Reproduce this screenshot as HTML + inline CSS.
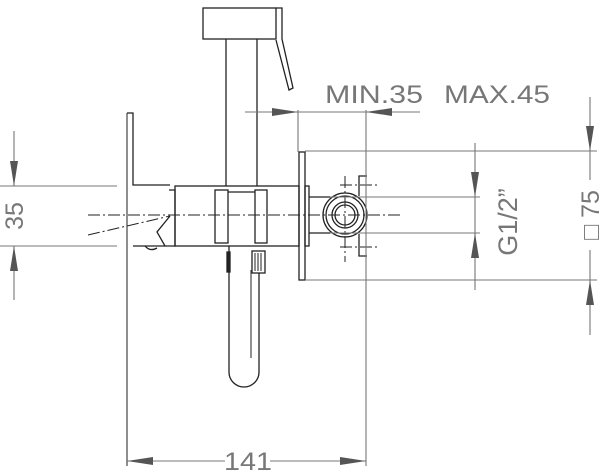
<!DOCTYPE html>
<html><head><style>html,body{margin:0;padding:0;background:#fff}svg{display:block}</style></head>
<body>
<svg width="602" height="472" viewBox="0 0 602 472" xmlns="http://www.w3.org/2000/svg">
<g fill="none" stroke="#222" stroke-width="1.3">
<rect x="203" y="8" width="73" height="31"/>
<path d="M276,8 L282,8 L282,39 L293,88 L289,90 L276,40"/>
<line x1="226" y1="39" x2="226" y2="186"/>
<line x1="257" y1="39" x2="257" y2="186"/>
<path d="M127,113 L133,113 L133,185 L170,185"/>
<path d="M133,246 L165,246"/>
<path d="M169,190 L175,190 L175,246 L165,246 L157,232 L170,216"/>
<path d="M145,246 Q150,252 157,248"/>
<rect x="175" y="186" width="124" height="60"/>
<rect x="215" y="190" width="13" height="53"/>
<rect x="255" y="190" width="12" height="53"/>
<line x1="228" y1="192" x2="255" y2="192"/>
<rect x="299" y="152" width="6" height="128"/>
<rect x="305" y="186" width="4" height="60"/>
<line x1="309" y1="197" x2="330" y2="197"/>
<line x1="309" y1="233" x2="330" y2="233"/>
<circle cx="345" cy="215" r="22"/>
<circle cx="345" cy="215" r="19"/>
<circle cx="345" cy="215" r="13"/>
<circle cx="345" cy="215" r="10"/>
<path d="M359,196 L359,176 L367,176 M359,234 L359,256 L367,256"/>
<path d="M229,246 L229,372 A15,15 0 0 0 259,372 L259,273"/>
<line x1="251" y1="270" x2="251" y2="358" stroke="#555"/>
<rect x="252" y="251" width="13" height="22"/>
<path d="M255,253 V271 M258,253 V271 M261,253 V271" stroke-width="1"/>
<rect x="227" y="252" width="3" height="20" fill="#222"/>
</g>
<g stroke="#222" stroke-width="1" stroke-dasharray="12,3,2,3" fill="none">
<line x1="88" y1="215" x2="400" y2="215"/>
<line x1="88" y1="235" x2="170" y2="216"/>
<line x1="345" y1="176" x2="345" y2="262"/>
<line x1="340" y1="185" x2="378" y2="185"/>
<line x1="340" y1="247" x2="378" y2="247"/>
</g>
<g stroke="#777" stroke-width="1.1" fill="none">
<line x1="127" y1="113" x2="127" y2="466" stroke="#333"/>
<line x1="366" y1="110" x2="366" y2="466"/>
<line x1="298" y1="110" x2="298" y2="152"/>
<line x1="245" y1="112" x2="420" y2="112"/>
<line x1="305" y1="151" x2="597" y2="151"/>
<line x1="305" y1="280" x2="597" y2="280"/>
<line x1="330" y1="197" x2="480" y2="197"/>
<line x1="330" y1="233" x2="480" y2="233"/>
<line x1="475" y1="143" x2="475" y2="290"/>
<line x1="590" y1="97" x2="590" y2="180"/>
<line x1="590" y1="250" x2="590" y2="335"/>
<line x1="0" y1="186" x2="117" y2="186"/>
<line x1="0" y1="246" x2="117" y2="246"/>
<line x1="14" y1="131" x2="14" y2="186"/>
<line x1="14" y1="246" x2="14" y2="300"/>
<line x1="127" y1="461" x2="225" y2="461"/>
<line x1="270" y1="461" x2="366" y2="461"/>
</g>
<g fill="#555">
<polygon points="298,112 272,108 272,116"/>
<polygon points="366,112 392,108 392,116"/>
<polygon points="475,197 471,172 479,172"/>
<polygon points="475,233 471,258 479,258"/>
<polygon points="590,151 586,126 594,126"/>
<polygon points="590,280 586,305 594,305"/>
<polygon points="14,186 10,161 18,161"/>
<polygon points="14,246 10,271 18,271"/>
<polygon points="127,461 153,457 153,465"/>
<polygon points="366,461 340,457 340,465"/>
</g>
<g font-family="Liberation Sans, sans-serif" fill="#777" font-size="25">
<text x="325" y="103" textLength="98" lengthAdjust="spacingAndGlyphs">MIN.35</text>
<text x="444" y="103" textLength="106" lengthAdjust="spacingAndGlyphs">MAX.45</text>
<text x="248" y="470" text-anchor="middle" textLength="48" lengthAdjust="spacingAndGlyphs">141</text>
<text transform="translate(23,216) rotate(-90)" text-anchor="middle">35</text>
<text transform="translate(517,222) rotate(-90)" text-anchor="middle" font-size="27">G1/2”</text>
<text transform="translate(599,215) rotate(-90)" text-anchor="middle">□ 75</text>
</g>
</svg>
</body></html>
